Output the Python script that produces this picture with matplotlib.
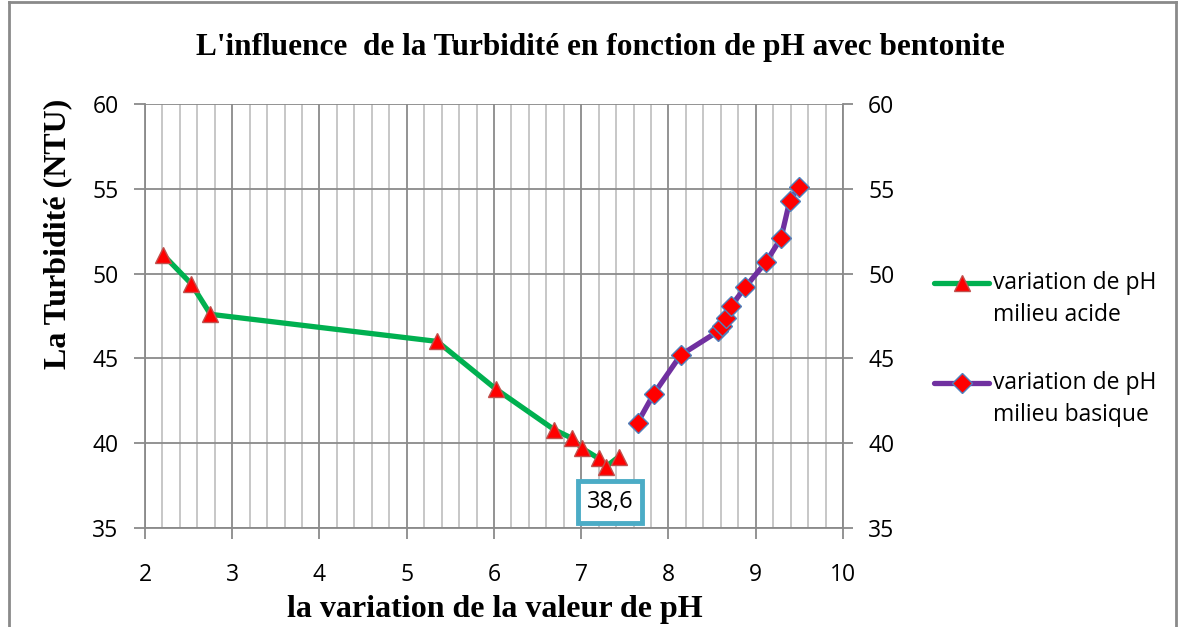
import numpy as np
import matplotlib
matplotlib.use("Agg")
import matplotlib.pyplot as plt
from matplotlib.lines import Line2D

# Data
ph_acide = [2.21, 2.53, 2.75, 5.35, 6.02, 6.69, 6.89, 7.01, 7.20, 7.28, 7.43]
turb_acide = [51.1, 49.4, 47.6, 46.0, 43.2, 40.8, 40.3, 39.7, 39.1, 38.6, 39.2]
ph_basique = [7.645, 7.83, 8.14, 8.57, 8.61, 8.66, 8.72, 8.88, 9.12, 9.29, 9.39, 9.49]
turb_basique = [41.2, 42.9, 45.2, 46.6, 46.9, 47.4, 48.1, 49.2, 50.7, 52.1, 54.3, 55.1]
labels = ["variation de pH\nmilieu acide", "variation de pH\nmilieu basique"]
title = "L'influence  de la Turbidité en fonction de pH avec bentonite"
xlabel = "la variation de la valeur de pH"
ylabel = "La Turbidité (NTU)"
annot_idx = 9
yticks = [35, 40, 45, 50, 55, 60]
xticks = list(range(2, 11))

W, H = 1184, 627
fig = plt.figure(figsize=(W / 100, H / 100), dpi=100)
fig.patch.set_facecolor("white")

sans = ["Open Sans", "DejaVu Sans"]
serif = ["Liberation Serif", "DejaVu Serif"]
TS = 16.5

ax = fig.add_axes([145 / W, 1 - 528 / H, (843 - 145) / W, (528 - 104) / H])
ax.set_xlim(2, 10)
ax.set_ylim(35, 60)
ax.set_xticks(xticks)
ax.set_xticks(np.arange(2, 10.001, 0.2), minor=True)
ax.set_yticks(yticks)
ax.grid(which="minor", axis="x", color="#c3c3c3", lw=1.3)
ax.grid(which="major", axis="x", color="#8a8a8a", lw=1.3)
ax.grid(which="major", axis="y", color="#8a8a8a", lw=1.3)
ax.set_axisbelow(True)
ax.tick_params(which="minor", length=0)
ax.tick_params(which="major", length=8, width=1.3, color="#8a8a8a", labelsize=TS)
ax.tick_params(axis="y", pad=11)
ax.tick_params(axis="x", pad=17)
for s in ["top", "right"]:
    ax.spines[s].set_visible(False)
for s in ["left", "bottom"]:
    ax.spines[s].set_color("#8a8a8a")
    ax.spines[s].set_linewidth(1.3)
for lab in ax.get_xticklabels() + ax.get_yticklabels():
    lab.set_fontfamily(sans)

ax2 = ax.twinx()
ax2.set_ylim(35, 60)
ax2.set_yticks(yticks)
ax2.tick_params(length=7, width=1.3, color="#8a8a8a", labelsize=TS, pad=11)
for s in ["top", "left", "bottom"]:
    ax2.spines[s].set_visible(False)
ax2.spines["right"].set_color("#8a8a8a")
ax2.spines["right"].set_linewidth(1.3)
for lab in ax2.get_yticklabels():
    lab.set_fontfamily(sans)

acide_style = dict(color="#00b050", lw=3.8, marker="^", markersize=12,
                   markerfacecolor="#ff0000", markeredgecolor="#c0504d",
                   markeredgewidth=1, solid_capstyle="round")
basique_style = dict(color="#7030a0", lw=3.8, marker="D", markersize=10,
                     markerfacecolor="#ff0000", markeredgecolor="#4f81bd",
                     markeredgewidth=1, solid_capstyle="round")

ax.plot(ph_acide, turb_acide, zorder=3, **acide_style)
ax.plot(ph_basique, turb_basique, zorder=3, **basique_style)

ax.annotate(f"{turb_acide[annot_idx]:.1f}".replace(".", ","),
            xy=(ph_acide[annot_idx], turb_acide[annot_idx]),
            xytext=(3, -25), textcoords="offset points", ha="center", va="center",
            fontsize=17, fontfamily=sans, zorder=5,
            bbox=dict(boxstyle="square,pad=0.38", fc="white", ec="#4bacc6", lw=3.5))

# Manual legend (handle aligned with first text line, like Excel)
leg_y = [283, 383]
for y, lab, st in zip(leg_y, labels, [acide_style, basique_style]):
    yf = 1 - y / H
    st2 = dict(st)
    st2["marker"] = None
    fig.add_artist(Line2D([934 / W, 989 / W], [yf, yf], transform=fig.transFigure, **st2))
    fig.add_artist(Line2D([961.5 / W], [yf], transform=fig.transFigure, linestyle="none",
                          marker=st["marker"], markersize=st["markersize"],
                          markerfacecolor=st["markerfacecolor"],
                          markeredgecolor=st["markeredgecolor"],
                          markeredgewidth=st["markeredgewidth"]))
    l1, l2 = lab.split("\n")
    fig.text(993 / W, yf, l1, ha="left", va="center", fontsize=TS, fontfamily=sans)
    fig.text(993 / W, 1 - (y + 32) / H, l2, ha="left", va="center", fontsize=TS, fontfamily=sans)

fig.text(600 / W, 1 - 47 / H, title, ha="center", va="center",
         fontsize=22.5, fontweight="bold", fontfamily=serif)
fig.text(495 / W, 1 - 610 / H, xlabel, ha="center", va="center",
         fontsize=23, fontweight="bold", fontfamily=serif)
fig.text(58 / W, 1 - 234 / H, ylabel, ha="center", va="center", rotation=90,
         fontsize=23, fontweight="bold", fontfamily=serif)

# Outer frame (left, top, right)
fc = "#8a8a8a"
fig.add_artist(Line2D([9 / W, 9 / W], [0, 1 - 2 / H], color=fc, lw=2, transform=fig.transFigure))
fig.add_artist(Line2D([9 / W, 1176 / W], [1 - 2 / H, 1 - 2 / H], color=fc, lw=2, transform=fig.transFigure))
fig.add_artist(Line2D([1176 / W, 1176 / W], [0, 1 - 2 / H], color=fc, lw=2, transform=fig.transFigure))

fig.savefig("out.png", dpi=100)
